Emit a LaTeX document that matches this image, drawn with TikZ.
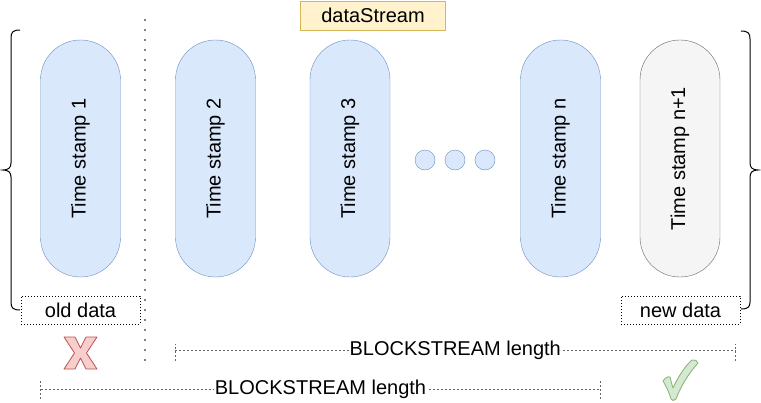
\documentclass[tikz,border=0pt]{standalone}
\usepackage{fontspec}
\setmainfont{Liberation Sans}
\usetikzlibrary{positioning}
\definecolor{stampfill}{HTML}{DAE8FC}
\definecolor{stampline}{HTML}{6C8EBF}
\definecolor{nextfill}{HTML}{F5F5F5}
\definecolor{nextline}{HTML}{666666}
\definecolor{streamfill}{HTML}{FFF2CC}
\definecolor{streamline}{HTML}{D6B656}
\definecolor{dropfill}{HTML}{F8CECC}
\definecolor{dropline}{HTML}{B85450}
\definecolor{keepfill}{HTML}{D5E8D4}
\definecolor{keepline}{HTML}{82B366}

\begin{document}
\begin{tikzpicture}[
    x=1pt,
    y=-1pt,
    every node/.style={font=\fontsize{20}{24}\selectfont},
    stamp/.style={draw=stampline,fill=stampfill,rotate=90,inner sep=0pt,
      minimum width=237pt,minimum height=80pt,rounded corners=39.9pt},
    nextstamp/.style={stamp,draw=nextline,fill=nextfill},
    gapdot/.style={circle,draw=stampline,fill=stampfill,minimum size=20pt,inner sep=0pt},
    databox/.style={draw,line width=0.9pt,dash pattern=on 1pt off 2pt,
      minimum width=119pt,minimum height=28pt,inner sep=0pt},
    dimline/.style={draw=black!60,line width=0.8pt,dash pattern=on 2pt off 2pt},
    dimlabel/.style={fill=white,inner sep=1pt},
    brace/.style={draw,line width=1pt}
]
  \useasboundingbox (0,0) rectangle (761,402);

  % stream title
  \node[draw=streamline,fill=streamfill,minimum width=145pt,minimum height=29pt,inner sep=0pt]
    (stream) at (373,15.5) {dataStream};

  % time stamps
  \node[stamp] (ts1) at (80.5,158.5) {Time stamp 1};
  \node[stamp] (ts2) at (215.5,158.5) {Time stamp 2};
  \node[stamp] (ts3) at (350,158.5) {Time stamp 3};
  \node[stamp] (tsn) at (560.5,158.5) {Time stamp n};
  \node[nextstamp] (tsnext) at (680,158.5) {Time stamp n+1};

  \foreach \x/\name in {425/gap1,455/gap2,485/gap3}
    \node[gapdot] (\name) at (\x,160) {};

  % window separator
  \draw[line width=1.8pt,line cap=round,dash pattern=on 0pt off 10pt] (145,20) -- (145,361);

  % braces
  \draw[brace] (20,30) .. controls (13,30) and (11,32) .. (11,38) -- (11,163)
    .. controls (11,168) and (8,170) .. (3,170)
    .. controls (8,170) and (11,172) .. (11,177) -- (11,302)
    .. controls (11,308) and (13,310) .. (20,310);
  \draw[brace] (741,31) .. controls (748,31) and (750,33) .. (750,39) -- (750,163)
    .. controls (750,168) and (753,170) .. (758,170)
    .. controls (753,170) and (750,172) .. (750,177) -- (750,302)
    .. controls (750,307) and (748,309) .. (741,309);

  % old and new data
  \node[databox] (olddata) at (80.5,310) {old data};
  \node[databox] (newdata) at (680.5,310) {new data};

  \draw[dropline,fill=dropfill,line width=0.8pt,line join=round]
    (64,337) -- (75,337) -- (80.5,348) -- (86,337) -- (97,337) -- (86.5,353)
    -- (97,369) -- (86,369) -- (80.5,358) -- (75,369) -- (64,369) -- (74.5,353) -- cycle;
  \draw[keepline,fill=keepfill,line width=0.8pt,line join=round]
    (663,381) .. controls (665,378) and (668,376) .. (670,377)
    .. controls (671,381) and (672,385) .. (673,388)
    .. controls (679,375) and (686,365) .. (692,360)
    .. controls (695,359) and (697,361) .. (698,363)
    .. controls (688,374) and (680,388) .. (676,399)
    .. controls (674,401) and (672,401) .. (671,399)
    .. controls (669,392) and (666,386) .. cycle;

  % lengths
  \coordinate (len1a) at (175,350.5);
  \coordinate (len1b) at (735.5,350.5);
  \coordinate (len2a) at (40.5,389);
  \coordinate (len2b) at (600.5,389);
  \draw[dimline] ([yshift=-10pt]len1a) -- ([yshift=7pt]len1a);
  \draw[dimline] ([yshift=-10pt]len1b) -- ([yshift=7pt]len1b);
  \draw[dimline] (len1a) -- (len1b)
    node[dimlabel,midway] (len1) {BLOCKSTREAM length};
  \draw[dimline] ([yshift=-10pt]len2a) -- ([yshift=8pt]len2a);
  \draw[dimline] ([yshift=-10pt]len2b) -- ([yshift=8pt]len2b);
  \draw[dimline] (len2a) -- (len2b)
    node[dimlabel,midway] (len2) {BLOCKSTREAM length};
\end{tikzpicture}
\end{document}
